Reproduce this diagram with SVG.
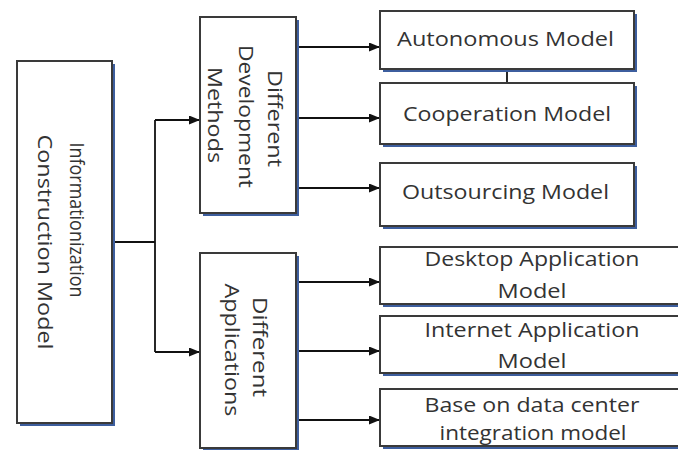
<svg xmlns="http://www.w3.org/2000/svg" width="678" height="450" viewBox="0 0 678 450">
  <style>
    .shadow { fill: #3d5e9e; }
    .box { fill: #ffffff; stroke: #3a3a3a; stroke-width: 2; }
    .lbl { font-family: "Open Sans", "Liberation Sans", sans-serif; font-size: 20px; fill: #333333; text-anchor: middle; }
    .conn { fill: none; stroke: #111111; stroke-width: 1.8; }
  </style>
  <defs>
    <marker id="arrow" markerUnits="userSpaceOnUse" markerWidth="11" markerHeight="9" refX="11" refY="4.5" orient="auto">
      <path d="M0,0 L11,4.5 L0,9 z" fill="#111111"/>
    </marker>
  </defs>
  <rect width="678" height="450" fill="#ffffff"/>

  <g id="connectors">
    <polyline class="conn" points="112,242 155,242"/>
    <polyline class="conn" points="155,120 155,352"/>
    <line class="conn" x1="155" y1="120" x2="200" y2="120" marker-end="url(#arrow)"/>
    <line class="conn" x1="155" y1="352" x2="200" y2="352" marker-end="url(#arrow)"/>
    <line class="conn" x1="296" y1="47" x2="380" y2="47" marker-end="url(#arrow)"/>
    <line class="conn" x1="296" y1="118" x2="380" y2="118" marker-end="url(#arrow)"/>
    <line class="conn" x1="296" y1="188" x2="380" y2="188" marker-end="url(#arrow)"/>
    <line class="conn" x1="296" y1="282" x2="380" y2="282" marker-end="url(#arrow)"/>
    <line class="conn" x1="296" y1="351" x2="380" y2="351" marker-end="url(#arrow)"/>
    <line class="conn" x1="296" y1="420" x2="380" y2="420" marker-end="url(#arrow)"/>
    <line class="conn" x1="507" y1="69" x2="507" y2="83" stroke-width="1.2"/>
  </g>

  <g id="main">
    <rect class="shadow" x="20" y="64" width="95" height="362"/>
    <rect class="box" x="17" y="61" width="95" height="362"/>
    <text class="lbl" transform="translate(70,220) rotate(90)" textLength="155" lengthAdjust="spacingAndGlyphs">Informationization</text>
    <text class="lbl" transform="translate(38,242) rotate(90)" textLength="215" lengthAdjust="spacingAndGlyphs">Construction Model</text>
  </g>

  <g id="dev-methods">
    <rect class="shadow" x="203" y="20" width="96" height="196"/>
    <rect class="box" x="200" y="17" width="96" height="196"/>
    <text class="lbl" transform="translate(268,118.5) rotate(90)" textLength="97" lengthAdjust="spacingAndGlyphs">Different</text>
    <text class="lbl" transform="translate(239,116.5) rotate(90)" textLength="143" lengthAdjust="spacingAndGlyphs">Development</text>
    <text class="lbl" transform="translate(208,115) rotate(90)" textLength="96" lengthAdjust="spacingAndGlyphs">Methods</text>
  </g>

  <g id="applications">
    <rect class="shadow" x="203" y="256" width="96" height="195"/>
    <rect class="box" x="200" y="253" width="96" height="195"/>
    <text class="lbl" transform="translate(253,347) rotate(90)" textLength="100" lengthAdjust="spacingAndGlyphs">Different</text>
    <text class="lbl" transform="translate(225,350) rotate(90)" textLength="133" lengthAdjust="spacingAndGlyphs">Applications</text>
  </g>

  <g id="autonomous">
    <rect class="shadow" x="383" y="14" width="254" height="58"/>
    <rect class="box" x="380" y="11" width="254" height="58"/>
    <text class="lbl" x="505.5" y="46" textLength="217" lengthAdjust="spacingAndGlyphs">Autonomous Model</text>
  </g>

  <g id="cooperation">
    <rect class="shadow" x="383" y="86" width="254" height="61"/>
    <rect class="box" x="380" y="83" width="254" height="61"/>
    <text class="lbl" x="507" y="121" textLength="208" lengthAdjust="spacingAndGlyphs">Cooperation Model</text>
  </g>

  <g id="outsourcing">
    <rect class="shadow" x="383" y="166" width="254" height="63"/>
    <rect class="box" x="380" y="163" width="254" height="63"/>
    <text class="lbl" x="505.5" y="199" textLength="207" lengthAdjust="spacingAndGlyphs">Outsourcing Model</text>
  </g>

  <g id="desktop">
    <rect class="shadow" x="383" y="250" width="304" height="57"/>
    <rect class="box" x="380" y="247" width="304" height="57"/>
    <text class="lbl" x="532" y="266" textLength="215" lengthAdjust="spacingAndGlyphs">Desktop Application</text>
    <text class="lbl" x="532" y="298" textLength="69" lengthAdjust="spacingAndGlyphs">Model</text>
  </g>

  <g id="internet">
    <rect class="shadow" x="383" y="319" width="304" height="57"/>
    <rect class="box" x="380" y="316" width="304" height="57"/>
    <text class="lbl" x="532" y="337" textLength="215" lengthAdjust="spacingAndGlyphs">Internet Application</text>
    <text class="lbl" x="532" y="368" textLength="69" lengthAdjust="spacingAndGlyphs">Model</text>
  </g>

  <g id="datacenter">
    <rect class="shadow" x="383" y="392" width="304" height="57"/>
    <rect class="box" x="380" y="389" width="304" height="57"/>
    <text class="lbl" x="532" y="412" textLength="215" lengthAdjust="spacingAndGlyphs">Base on data center</text>
    <text class="lbl" x="533" y="440" textLength="187" lengthAdjust="spacingAndGlyphs">integration model</text>
  </g>
</svg>
